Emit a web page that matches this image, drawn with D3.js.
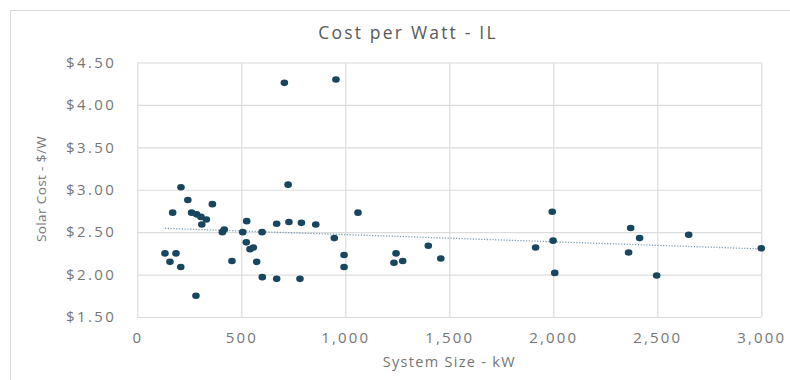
<!DOCTYPE html>
<html>
<head>
<meta charset="utf-8">
<script src="https://cdn.jsdelivr.net/npm/d3@7"></script>
<style>
  html, body { margin: 0; padding: 0; background: #ffffff; }
  svg { display: block; }
  text { font-family: "Open Sans", "DejaVu Sans", sans-serif; }
</style>
</head>
<body>
<svg id="chart" width="790" height="380"></svg>
<script>
// ---- Data ----
const title = "Cost per Watt - IL";
const xTitle = "System Size - kW";
const yTitle = "Solar Cost - $/W";

const systemSizeKW = [
  133, 157, 170, 186, 209, 210, 243, 261, 282, 285, 306, 310, 332, 361,
  409, 418, 455, 507, 524, 526, 542, 558, 574, 600, 601, 670, 670,
  707, 725, 729, 782, 789, 858, 947, 955, 994, 994, 1061,
  1234, 1244, 1276, 1399, 1459, 1915, 1995, 1999, 2007,
  2362, 2372, 2415, 2497, 2651, 3000
];
const costPerWatt = [
  2.25, 2.15, 2.73, 2.25, 2.09, 3.03, 2.88, 2.73, 1.75, 2.71, 2.68, 2.59, 2.65, 2.83,
  2.50, 2.53, 2.16, 2.50, 2.38, 2.63, 2.30, 2.32, 2.15, 2.50, 1.97, 2.60, 1.95,
  4.26, 3.06, 2.62, 1.95, 2.61, 2.59, 2.43, 4.30, 2.23, 2.09, 2.73,
  2.14, 2.25, 2.16, 2.34, 2.19, 2.32, 2.74, 2.40, 2.02,
  2.26, 2.55, 2.43, 1.99, 2.47, 2.31
];

const xTicks = [0, 500, 1000, 1500, 2000, 2500, 3000];
const yTicks = [1.5, 2.0, 2.5, 3.0, 3.5, 4.0, 4.5];

// ---- Layout ----
const svg = d3.select("#chart");
const plot = { left: 137.3, right: 761.3, top: 62.5, bottom: 317 };

const x = d3.scaleLinear().domain([0, 3000]).range([plot.left, plot.right]);
const y = d3.scaleLinear().domain([1.5, 4.5]).range([plot.bottom, plot.top]);

const gridColor = "#dcdcdc";
const textColor = "#767676";

// chart area border
svg.append("rect")
  .attr("x", 10.5).attr("y", 10.5)
  .attr("width", 800).attr("height", 400)
  .attr("fill", "#ffffff")
  .attr("stroke", "#d9d9d9").attr("stroke-width", 1);

// title
svg.append("text")
  .attr("x", 408).attr("y", 38.5)
  .attr("text-anchor", "middle")
  .attr("font-size", 17.5)
  .attr("letter-spacing", 2.2)
  .attr("fill", "#595959")
  .text(title);

// gridlines via axes
const yGrid = d3.axisLeft(y).tickValues(yTicks).tickSize(-(plot.right - plot.left)).tickFormat("");
svg.append("g")
  .attr("transform", `translate(${plot.left},0)`)
  .call(yGrid)
  .call(g => g.select(".domain").remove())
  .call(g => g.selectAll("line").attr("stroke", gridColor).attr("stroke-width", 1.2));

const xGrid = d3.axisBottom(x).tickValues(xTicks).tickSize(-(plot.bottom - plot.top)).tickFormat("");
svg.append("g")
  .attr("transform", `translate(0,${plot.bottom})`)
  .call(xGrid)
  .call(g => g.select(".domain").remove())
  .call(g => g.selectAll("line").attr("stroke", gridColor).attr("stroke-width", 1.2));

// axis labels
const yAxis = d3.axisLeft(y).tickValues(yTicks).tickSize(0).tickPadding(21)
  .tickFormat(d => "$" + d3.format(".2f")(d));
svg.append("g")
  .attr("transform", `translate(${plot.left},0)`)
  .call(yAxis)
  .call(g => g.select(".domain").remove())
  .call(g => g.selectAll("text")
    .attr("font-family", "'Open Sans', sans-serif")
    .attr("font-size", 15)
    .attr("letter-spacing", 2.4)
    .attr("fill", textColor));

const xAxis = d3.axisBottom(x).tickValues(xTicks).tickSize(0).tickPadding(15)
  .tickFormat(d3.format(","));
svg.append("g")
  .attr("transform", `translate(0,${plot.bottom})`)
  .call(xAxis)
  .call(g => g.select(".domain").remove())
  .call(g => g.selectAll("text")
    .attr("font-family", "'Open Sans', sans-serif")
    .attr("font-size", 15)
    .attr("letter-spacing", 2.2)
    .attr("fill", textColor));

// axis titles
svg.append("text")
  .attr("x", (plot.left + plot.right) / 2).attr("y", 367)
  .attr("text-anchor", "middle")
  .attr("font-size", 14.5)
  .attr("letter-spacing", 1.3)
  .attr("fill", textColor)
  .text(xTitle);

svg.append("text")
  .attr("transform", `translate(46,189) rotate(-90)`)
  .attr("text-anchor", "middle")
  .attr("font-family", "'Liberation Sans Narrow', 'Roboto', sans-serif")
  .attr("font-size", 13.5)
  .attr("letter-spacing", 0.4)
  .attr("fill", textColor)
  .text(yTitle);

// linear trendline (least squares)
const pts = systemSizeKW.map((v, i) => ({ x: v, y: costPerWatt[i] }));
const mx = d3.mean(pts, d => d.x), my = d3.mean(pts, d => d.y);
const slope = d3.sum(pts, d => (d.x - mx) * (d.y - my)) / d3.sum(pts, d => (d.x - mx) ** 2);
const intercept = my - slope * mx;
const xMin = d3.min(systemSizeKW), xMax = d3.max(systemSizeKW);
svg.append("line")
  .attr("x1", x(xMin)).attr("y1", y(intercept + slope * xMin))
  .attr("x2", x(xMax)).attr("y2", y(intercept + slope * xMax))
  .attr("stroke", "#7d9db3")
  .attr("stroke-width", 1.3)
  .attr("stroke-dasharray", "1.2,1.6");

// points
svg.append("g")
  .selectAll("ellipse")
  .data(pts)
  .join("ellipse")
  .attr("cx", d => x(d.x))
  .attr("cy", d => y(d.y))
  .attr("rx", 3.8)
  .attr("ry", 3.3)
  .attr("fill", "#17465e");
</script>
</body>
</html>
